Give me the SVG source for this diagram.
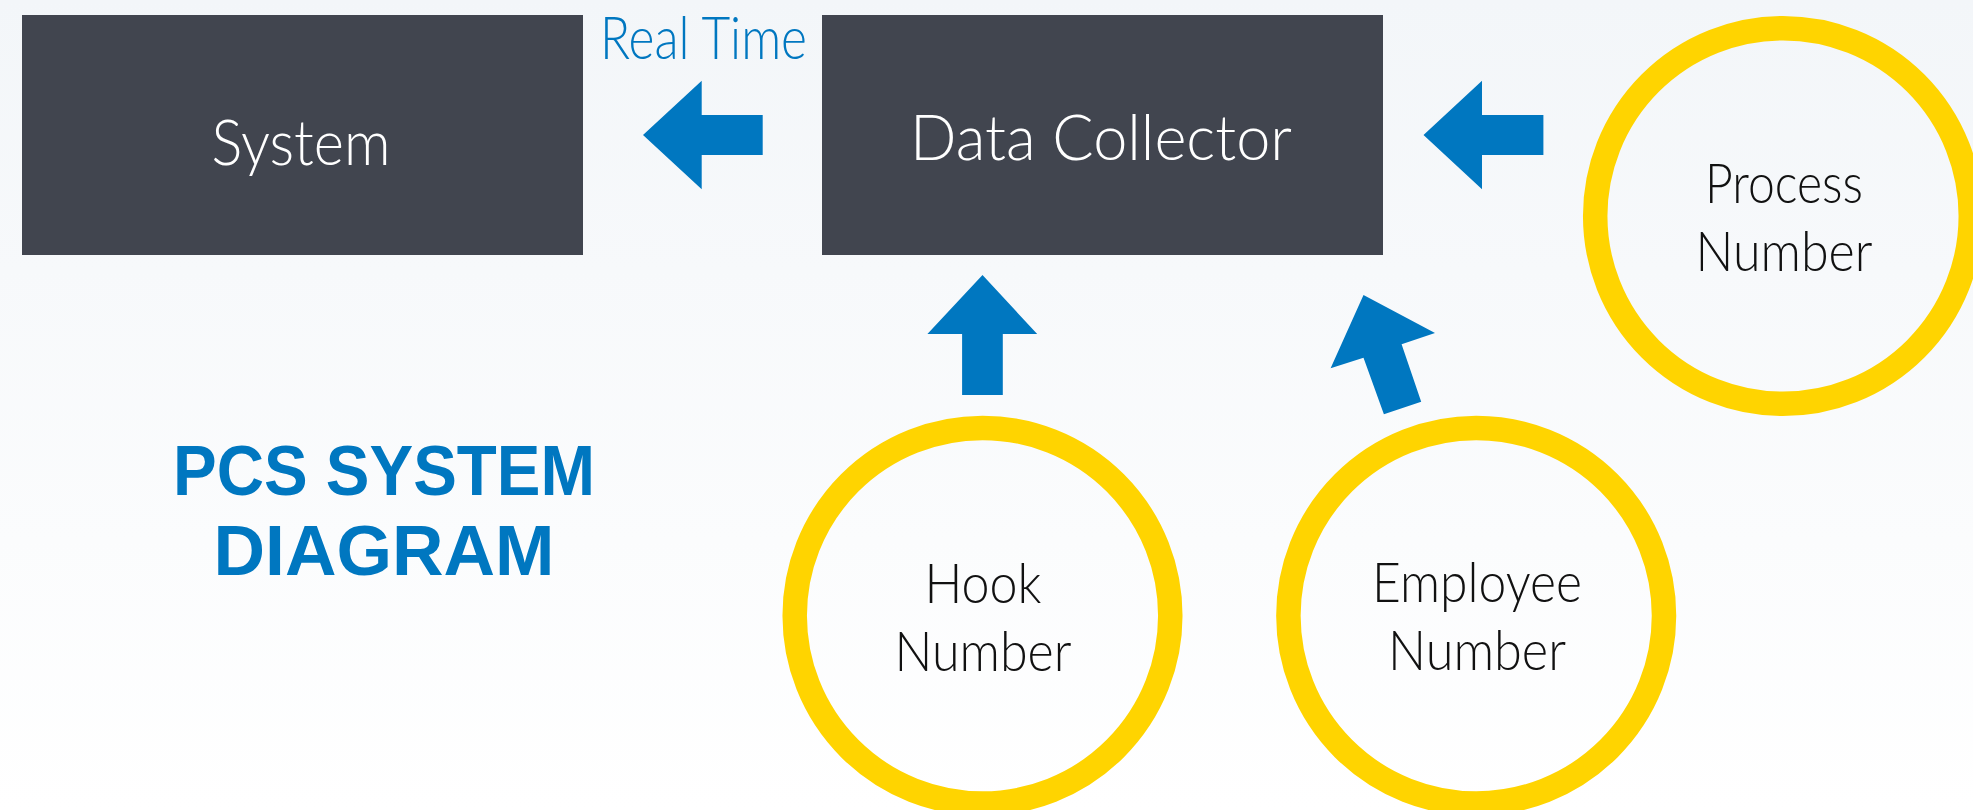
<svg xmlns="http://www.w3.org/2000/svg" width="1973" height="810" viewBox="0 0 1973 810">
<defs>
<linearGradient id="bg" x1="0" y1="0" x2="0" y2="1">
<stop offset="0" stop-color="#F3F6F9"/>
<stop offset="1" stop-color="#FFFFFF"/>
</linearGradient>
<style>
.box{fill:#41454F}
.boxtxt{font-family:Lato,"Liberation Sans",sans-serif;font-weight:300;font-size:64px;fill:#FFFFFF;text-anchor:middle}
.ring{fill:none;stroke:#FFD400;stroke-width:24.5}
.ringtxt{font-family:Lato,"Liberation Sans",sans-serif;font-weight:300;font-size:56px;fill:#111111;text-anchor:middle}
.arrow{fill:#0077C0}
.label{font-family:Lato,"Liberation Sans",sans-serif;font-weight:300;font-size:59px;fill:#0077C0}
.title{font-family:"Liberation Sans",Arial,sans-serif;font-weight:700;font-size:71px;fill:#0077C0;text-anchor:middle}
</style>
</defs>
<rect x="0" y="0" width="1973" height="810" fill="url(#bg)"/>

<g id="title">
<text class="title" x="384" y="495" textLength="422" lengthAdjust="spacingAndGlyphs">PCS SYSTEM</text>
<text class="title" x="384" y="575" textLength="341" lengthAdjust="spacingAndGlyphs">DIAGRAM</text>
</g>

<g id="system">
<rect class="box" x="22" y="15" width="561" height="240"/>
<text class="boxtxt" x="301" y="165" textLength="179" lengthAdjust="spacingAndGlyphs">System</text>
</g>

<g id="data-collector">
<rect class="box" x="822" y="15" width="561" height="240"/>
<text class="boxtxt" x="1101" y="160" textLength="382" lengthAdjust="spacingAndGlyphs">Data Collector</text>
</g>

<g id="process-number">
<circle class="ring" cx="1783" cy="216" r="187.8"/>
<text class="ringtxt" x="1784" y="203" textLength="158" lengthAdjust="spacingAndGlyphs">Process</text>
<text class="ringtxt" x="1784" y="271" textLength="177" lengthAdjust="spacingAndGlyphs">Number</text>
</g>

<g id="hook-number">
<circle class="ring" cx="982.5" cy="615.7" r="187.8"/>
<text class="ringtxt" x="983" y="603" textLength="117" lengthAdjust="spacingAndGlyphs">Hook</text>
<text class="ringtxt" x="983" y="671" textLength="177" lengthAdjust="spacingAndGlyphs">Number</text>
</g>

<g id="employee-number">
<circle class="ring" cx="1476.2" cy="615.7" r="187.8"/>
<text class="ringtxt" x="1477" y="602" textLength="210" lengthAdjust="spacingAndGlyphs">Employee</text>
<text class="ringtxt" x="1477" y="670" textLength="178" lengthAdjust="spacingAndGlyphs">Number</text>
</g>

<g id="connectors">
<polygon class="arrow" points="643,135 701.7,80.7 701.7,115 762.7,115 762.7,155 701.7,155 701.7,189.3"/>
<text class="label" x="600" y="59" textLength="207" lengthAdjust="spacingAndGlyphs">Real Time</text>
<polygon class="arrow" points="1423.5,135 1482,80.7 1482,115 1543.4,115 1543.4,155 1482,155 1482,189.3"/>
<polygon class="arrow" points="982.5,275 1037.2,334 1002.8,334 1002.8,395 962.1,395 962.1,334 927.4,334"/>
<polygon class="arrow" points="1363.5,295 1435,333 1401.6,344.3 1421.2,401.7 1383.9,414.3 1363.5,357.7 1330.6,368.3"/>
</g>
</svg>
